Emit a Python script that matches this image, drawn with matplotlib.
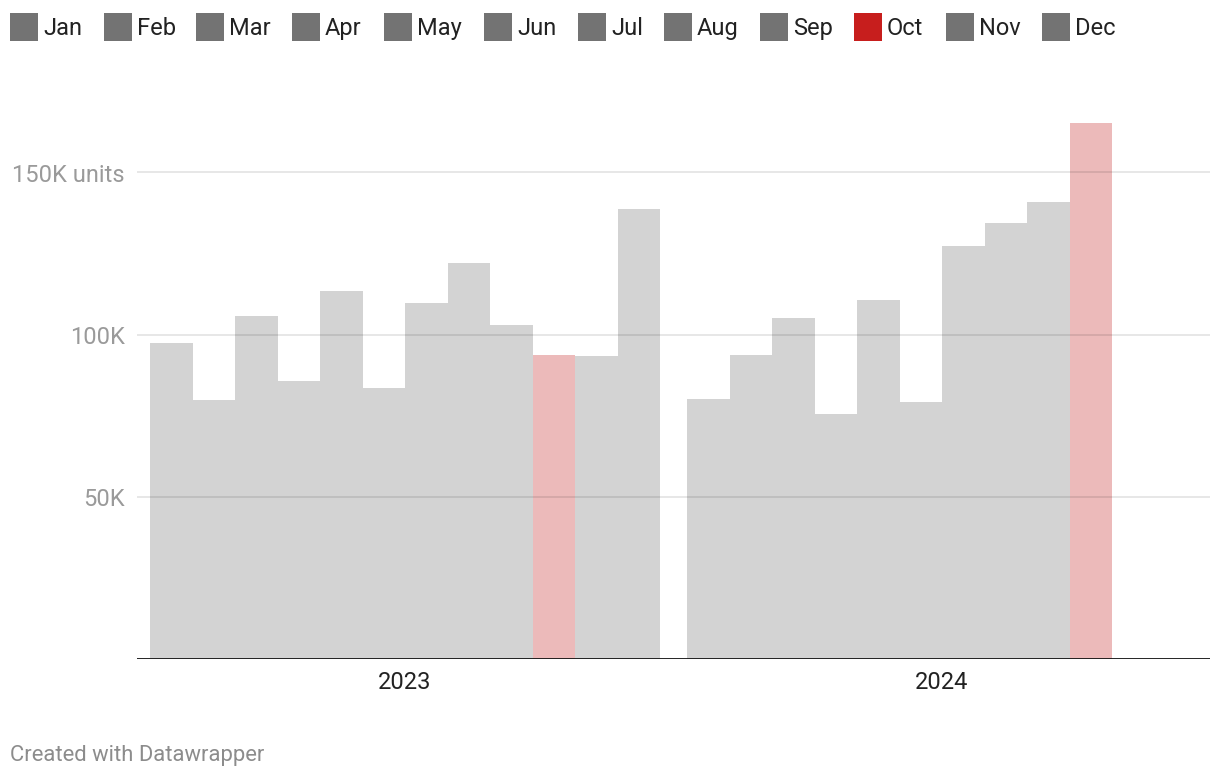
import matplotlib
matplotlib.use("Agg")
import matplotlib.pyplot as plt
from matplotlib.patches import Rectangle
import numpy as np

plt.rcParams['font.family'] = ['Roboto', 'DejaVu Sans']

months = ["Jan", "Feb", "Mar", "Apr", "May", "Jun", "Jul", "Aug", "Sep", "Oct", "Nov", "Dec"]
years = ["2023", "2024"]
values_2023 = [97.5, 79.9, 105.6, 85.5, 113.3, 83.6, 109.6, 122.2, 102.8, 93.8, 93.5, 138.6]
values_2024 = [80.2, 93.8, 105.2, 75.6, 110.5, 79.3, 127.2, 134.3, 141.0, 165.4, None, None]
highlight_month = "Oct"
yticks = [50, 100, 150]
ytick_labels = ["50K", "100K", "150K units"]

W, H = 1220, 780
fig = plt.figure(figsize=(W / 100, H / 100), dpi=100)

ax_left, ax_right, ax_bottom = 137, 1210, 658.5
ymax = 170
px_per_k = 3.24
ax_top = ax_bottom - ymax * px_per_k
ax = fig.add_axes([ax_left / W, 1 - ax_bottom / H, (ax_right - ax_left) / W, (ax_bottom - ax_top) / H])

group_offset = 537 / 42.5
margin = 13 / 42.5
gray = "#d3d3d3"
hl = "#ecbaba"

for gi, vals in enumerate([values_2023, values_2024]):
    for mi, v in enumerate(vals):
        if v is None:
            continue
        x = gi * group_offset + mi + 0.5
        c = hl if months[mi] == highlight_month else gray
        ax.bar(x, v, width=1.0, color=c, linewidth=0, zorder=1)

ax.set_xlim(-margin, group_offset + 12 + margin)
ax.set_ylim(0, ymax)

for t in yticks:
    ax.axhline(t, color="black", alpha=0.1, linewidth=1.3, zorder=2)
ax.axhline(0, color="#111111", linewidth=2, zorder=3)

ax.set_yticks(yticks)
ax.set_yticklabels(ytick_labels)
ax.tick_params(axis="y", length=0, pad=9, labelsize=17, labelcolor="#9a9a9a")
ax.set_xticks([6, group_offset + 6])
ax.set_xticklabels(years)
ax.tick_params(axis="x", length=0, pad=9, labelsize=17, labelcolor="#222222")
for s in ax.spines.values():
    s.set_visible(False)

# legend
leg_x = [10, 104, 196, 292, 384, 484, 578, 664, 760, 854, 946, 1042]
for m, lx in zip(months, leg_x):
    col = "#c71e1d" if m == highlight_month else "#737373"
    fig.patches.append(Rectangle((lx / W, 1 - 41 / H), 28 / W, 28 / H,
                                 transform=fig.transFigure, color=col, linewidth=0))
    fig.text((lx + 33) / W, 1 - 26 / H, m, ha="left", va="center_baseline",
             fontsize=17, color="#222222")

fig.text(10 / W, 1 - 755 / H, "Created with Datawrapper", ha="left", va="center",
         fontsize=15.8, color="#8c8c8c")

fig.savefig("out.png", dpi=100, facecolor="white")
